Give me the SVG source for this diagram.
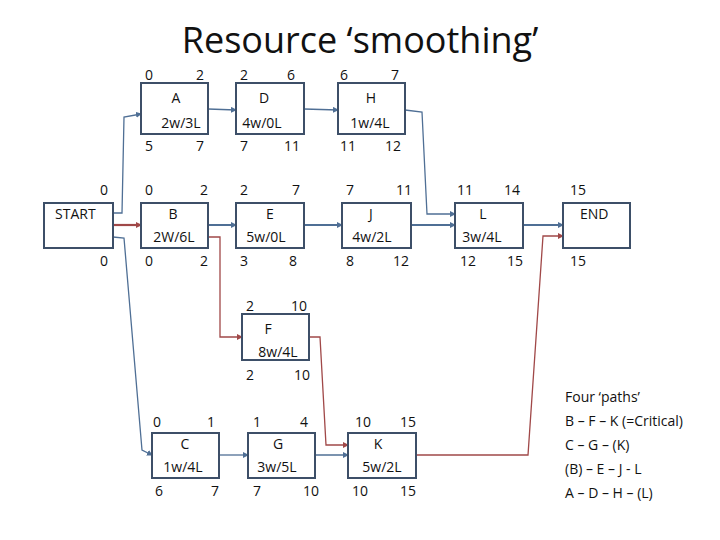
<svg xmlns="http://www.w3.org/2000/svg" width="720" height="540" viewBox="0 0 720 540">
<defs>
<marker id="ab" markerWidth="6" markerHeight="6" refX="5" refY="3" orient="auto" markerUnits="userSpaceOnUse"><path d="M0,0 L6,3 L0,6 z" fill="#4f6f95"/></marker>
<marker id="ar" markerWidth="6" markerHeight="6" refX="5" refY="3" orient="auto" markerUnits="userSpaceOnUse"><path d="M0,0 L6,3 L0,6 z" fill="#a04848"/></marker>
<style>
text{font-family:"Open Sans","Liberation Sans",sans-serif;font-size:14px;fill:#111}
.t{font-size:36px;text-anchor:middle}
.m{text-anchor:middle}
rect{fill:#fff;stroke:#3d4f68;stroke-width:2}
.b{fill:none;stroke:#4f6f95;stroke-width:1.3;marker-end:url(#ab)}
.bb{fill:none;stroke:#4f6f95;stroke-width:2;marker-end:url(#ab)}
.r{fill:none;stroke:#a04848;stroke-width:1.3;marker-end:url(#ar)}
.rr{fill:none;stroke:#a04848;stroke-width:2.2;marker-end:url(#ar)}
</style>
</defs>
<text class="t" x="360" y="53">Resource ‘smoothing’</text>
<g id="connectors">
<path class="b" d="M113,213 L122,213 L124,117 L141,114"/>
<path class="rr" d="M113,225 L141,225"/>
<path class="b" d="M113,237 L124,238 L142,450 L152,455"/>
<path class="b" d="M208,109 L236,110"/>
<path class="b" d="M304,109 L338,110"/>
<path class="b" d="M405,110 L422,112 L427,214 L455,214"/>
<path class="bb" d="M208,225 L236,225"/>
<path class="bb" d="M304,225 L342,225"/>
<path class="bb" d="M411,225 L455,225"/>
<path class="bb" d="M523,225 L563,225"/>
<path class="r" d="M208,237 L220,237 L220,337 L242,337"/>
<path class="r" d="M309,337 L320,337 L326,445 L348,445"/>
<path class="b" d="M219,455 L248,455"/>
<path class="b" d="M315,455 L348,455"/>
<path class="r" d="M416,455 L528,455 L543,236 L563,236"/>
</g>
<g id="START"><rect x="44" y="203" width="69" height="45"/><text x="55" y="219">START</text><text x="100" y="195">0</text><text x="100" y="266">0</text></g>
<g id="A"><rect x="141" y="83" width="67" height="51"/><text class="m" x="176" y="103">A</text><text class="m" x="181" y="128">2w/3L</text><text x="145" y="80">0</text><text x="196" y="80">2</text><text x="145" y="151">5</text><text x="196" y="151">7</text></g>
<g id="D"><rect x="236" y="83" width="68" height="51"/><text class="m" x="264" y="103">D</text><text class="m" x="262" y="128">4w/0L</text><text x="240" y="80">2</text><text x="287" y="80">6</text><text x="240" y="151">7</text><text x="284" y="151">11</text></g>
<g id="H"><rect x="338" y="83" width="67" height="51"/><text class="m" x="371" y="103">H</text><text class="m" x="370" y="128">1w/4L</text><text x="340" y="80">6</text><text x="391" y="80">7</text><text x="340" y="151">11</text><text x="385" y="151">12</text></g>
<g id="B"><rect x="141" y="203" width="67" height="45"/><text class="m" x="173" y="219">B</text><text class="m" x="174" y="242">2W/6L</text><text x="145" y="195">0</text><text x="200" y="195">2</text><text x="145" y="266">0</text><text x="200" y="266">2</text></g>
<g id="E"><rect x="236" y="203" width="68" height="45"/><text class="m" x="270" y="219">E</text><text class="m" x="266" y="242">5w/0L</text><text x="240" y="195">2</text><text x="292" y="195">7</text><text x="240" y="266">3</text><text x="289" y="266">8</text></g>
<g id="J"><rect x="342" y="203" width="69" height="45"/><text class="m" x="371" y="219">J</text><text class="m" x="372" y="242">4w/2L</text><text x="346" y="195">7</text><text x="396" y="195">11</text><text x="346" y="266">8</text><text x="393" y="266">12</text></g>
<g id="L"><rect x="455" y="203" width="68" height="45"/><text class="m" x="483" y="219">L</text><text class="m" x="482" y="242">3w/4L</text><text x="457" y="195">11</text><text x="504" y="195">14</text><text x="460" y="266">12</text><text x="507" y="266">15</text></g>
<g id="END"><rect x="563" y="203" width="67" height="45"/><text x="580" y="219">END</text><text x="570" y="195">15</text><text x="570" y="266">15</text></g>
<g id="F"><rect x="242" y="314" width="67" height="46"/><text class="m" x="268" y="334">F</text><text class="m" x="278" y="357">8w/4L</text><text x="246" y="311">2</text><text x="291" y="311">10</text><text x="246" y="380">2</text><text x="294" y="380">10</text></g>
<g id="C"><rect x="152" y="433" width="67" height="45"/><text class="m" x="185" y="449">C</text><text class="m" x="183" y="472">1w/4L</text><text x="153" y="427">0</text><text x="207" y="427">1</text><text x="155" y="496">6</text><text x="211" y="496">7</text></g>
<g id="G"><rect x="248" y="433" width="67" height="45"/><text class="m" x="278" y="449">G</text><text class="m" x="277" y="472">3w/5L</text><text x="253" y="427">1</text><text x="300" y="427">4</text><text x="253" y="496">7</text><text x="303" y="496">10</text></g>
<g id="K"><rect x="348" y="433" width="68" height="45"/><text class="m" x="378" y="449">K</text><text class="m" x="382" y="472">5w/2L</text><text x="355" y="427">10</text><text x="400" y="427">15</text><text x="352" y="496">10</text><text x="400" y="496">15</text></g>
<g id="paths">
<text x="565" y="402">Four ‘paths’</text>
<text x="565" y="426">B – F – K  (=Critical)</text>
<text x="565" y="450">C – G – (K)</text>
<text x="565" y="474">(B) – E – J - L</text>
<text x="565" y="498">A – D – H – (L)</text>
</g>
</svg>
